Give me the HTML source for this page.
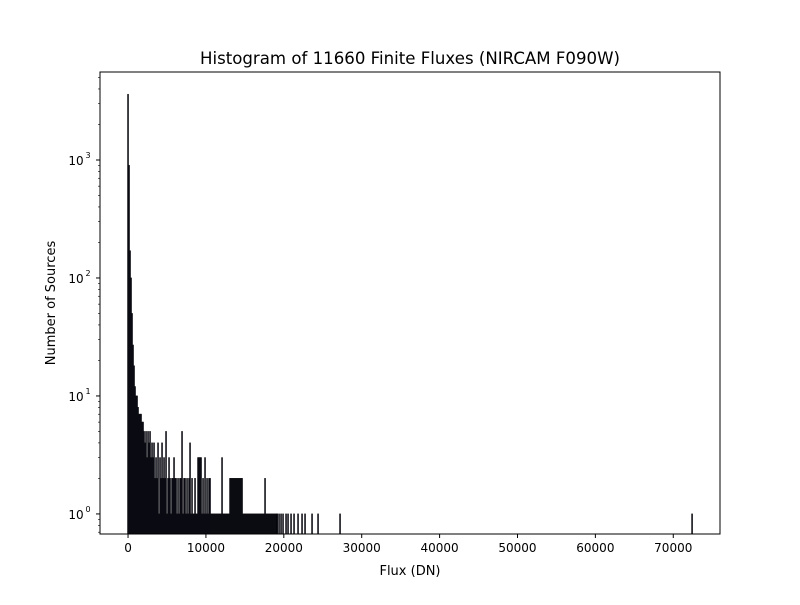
<!DOCTYPE html>
<html><head><meta charset="utf-8"><style>
body{margin:0;background:#fff}
svg text{font-family:"DejaVu Sans","Liberation Sans",sans-serif;fill:#000}
</style></head><body>
<svg id="chart" width="800" height="600" xmlns="http://www.w3.org/2000/svg">
<rect width="800" height="600" fill="#fff"/>
<text x="410" y="64" font-size="16.6" text-anchor="middle">Histogram of 11660 Finite Fluxes (NIRCAM F090W)</text>
<text x="410" y="575" font-size="13" text-anchor="middle">Flux (DN)</text>
<text transform="translate(55,303) rotate(-90)" font-size="13" text-anchor="middle">Number of Sources</text>
<g id="bars"></g>
<g id="axes"></g>
</svg>
<script>
const binWidth = 128.4;
const denseCounts = [3600,900,170,100,50,27,18,12,10,10,8,7,7,7,6,6,5,4,5,3,5,4,5,3,4,3,4,2,3,2,4,1,3,2,4,2,3,2,5,1,2,3,2,1,2,2,3,2,2,1,2,1,2,2,5,1,2,2,1,2,1,2,4,1,2,1,1,2,1,1,3,3,3,3,1,2,1,3,1,2,1,2,2,1,1,1,1,1,1,1,1,1,1,1,3,1,1,1,1,1,1,1,2,2,2,2,2,2,2,2,2,2,2,2,2,1,1,1,1,1,1,1,1,1,1,1,1,1,1,1,1,1,1,1,1,1,1,2,1,1,1,1,1,1,1,1,1,1,1,1];
const sparseBins = [149,151,153,155,158,160,163,166,170,174,177,184,190,212,564];
const sparseCounts = [1,1,1,1,1,1,1,1,1,1,1,1,1,1,1];
const xTicks = [0,10000,20000,30000,40000,50000,60000,70000];
const yTicks = [0,1,2,3];

const L=100,R=720,T=72,B=534;
const xMin=-3600,xMax=76000;
const yMinLog=Math.log10(0.676),yMaxLog=Math.log10(5570);
const X=v=>L+(v-xMin)/(xMax-xMin)*(R-L);
const Y=v=>B-(Math.log10(v)-yMinLog)/(yMaxLog-yMinLog)*(B-T);
const NS="http://www.w3.org/2000/svg";
function mk(tag,attrs,parent){const e=document.createElementNS(NS,tag);for(const k in attrs)e.setAttribute(k,attrs[k]);parent.appendChild(e);return e;}
const bars=document.getElementById('bars');
function drawBar(i,c){
  const x0=X((i-0.5)*binWidth),x1=X((i+0.5)*binWidth);
  const r=mk('rect',{x:x0,y:Y(c),width:Math.max(x1-x0,0.6),height:B-Y(c),fill:'#0a0a28','fill-opacity':0.85,stroke:'#000','stroke-opacity':0.7,'stroke-width':0.8},bars);
  
  
}
denseCounts.forEach((c,i)=>drawBar(i,c));
sparseBins.forEach((b,i)=>drawBar(b,sparseCounts[i]));
const ax=document.getElementById('axes');
const frame=mk('rect',{x:L,y:T,width:R-L,height:B-T,fill:'none',stroke:'#000','stroke-width':1},ax);


xTicks.forEach(v=>{
  const x=X(v);
  mk('line',{x1:x,x2:x,y1:B,y2:B+4,stroke:'#000'},ax);
  const t=mk('text',{x:x,y:B+18,'font-size':12,'text-anchor':'middle'},ax);
  t.textContent=v;
  
  
});
yTicks.forEach(p=>{
  const y=Y(Math.pow(10,p));
  mk('line',{x1:L-4,x2:L,y1:y,y2:y,stroke:'#000'},ax);
  const t=mk('text',{x:L-24,y:y+5,'font-size':12,'text-anchor':'middle'},ax);
  t.textContent='10';
  
  
  const s=mk('text',{x:L-12,y:y-2,'font-size':8,'text-anchor':'middle'},ax);
  s.textContent=p;
  
  
});
for(let p=-1;p<=3;p++){for(let m=2;m<=9;m++){const v=m*Math.pow(10,p);if(v<0.676||v>5570)continue;const y=Y(v);mk('line',{x1:L-2,x2:L,y1:y,y2:y,stroke:'#000','stroke-width':0.6},ax);}}
</script>
</body></html>
